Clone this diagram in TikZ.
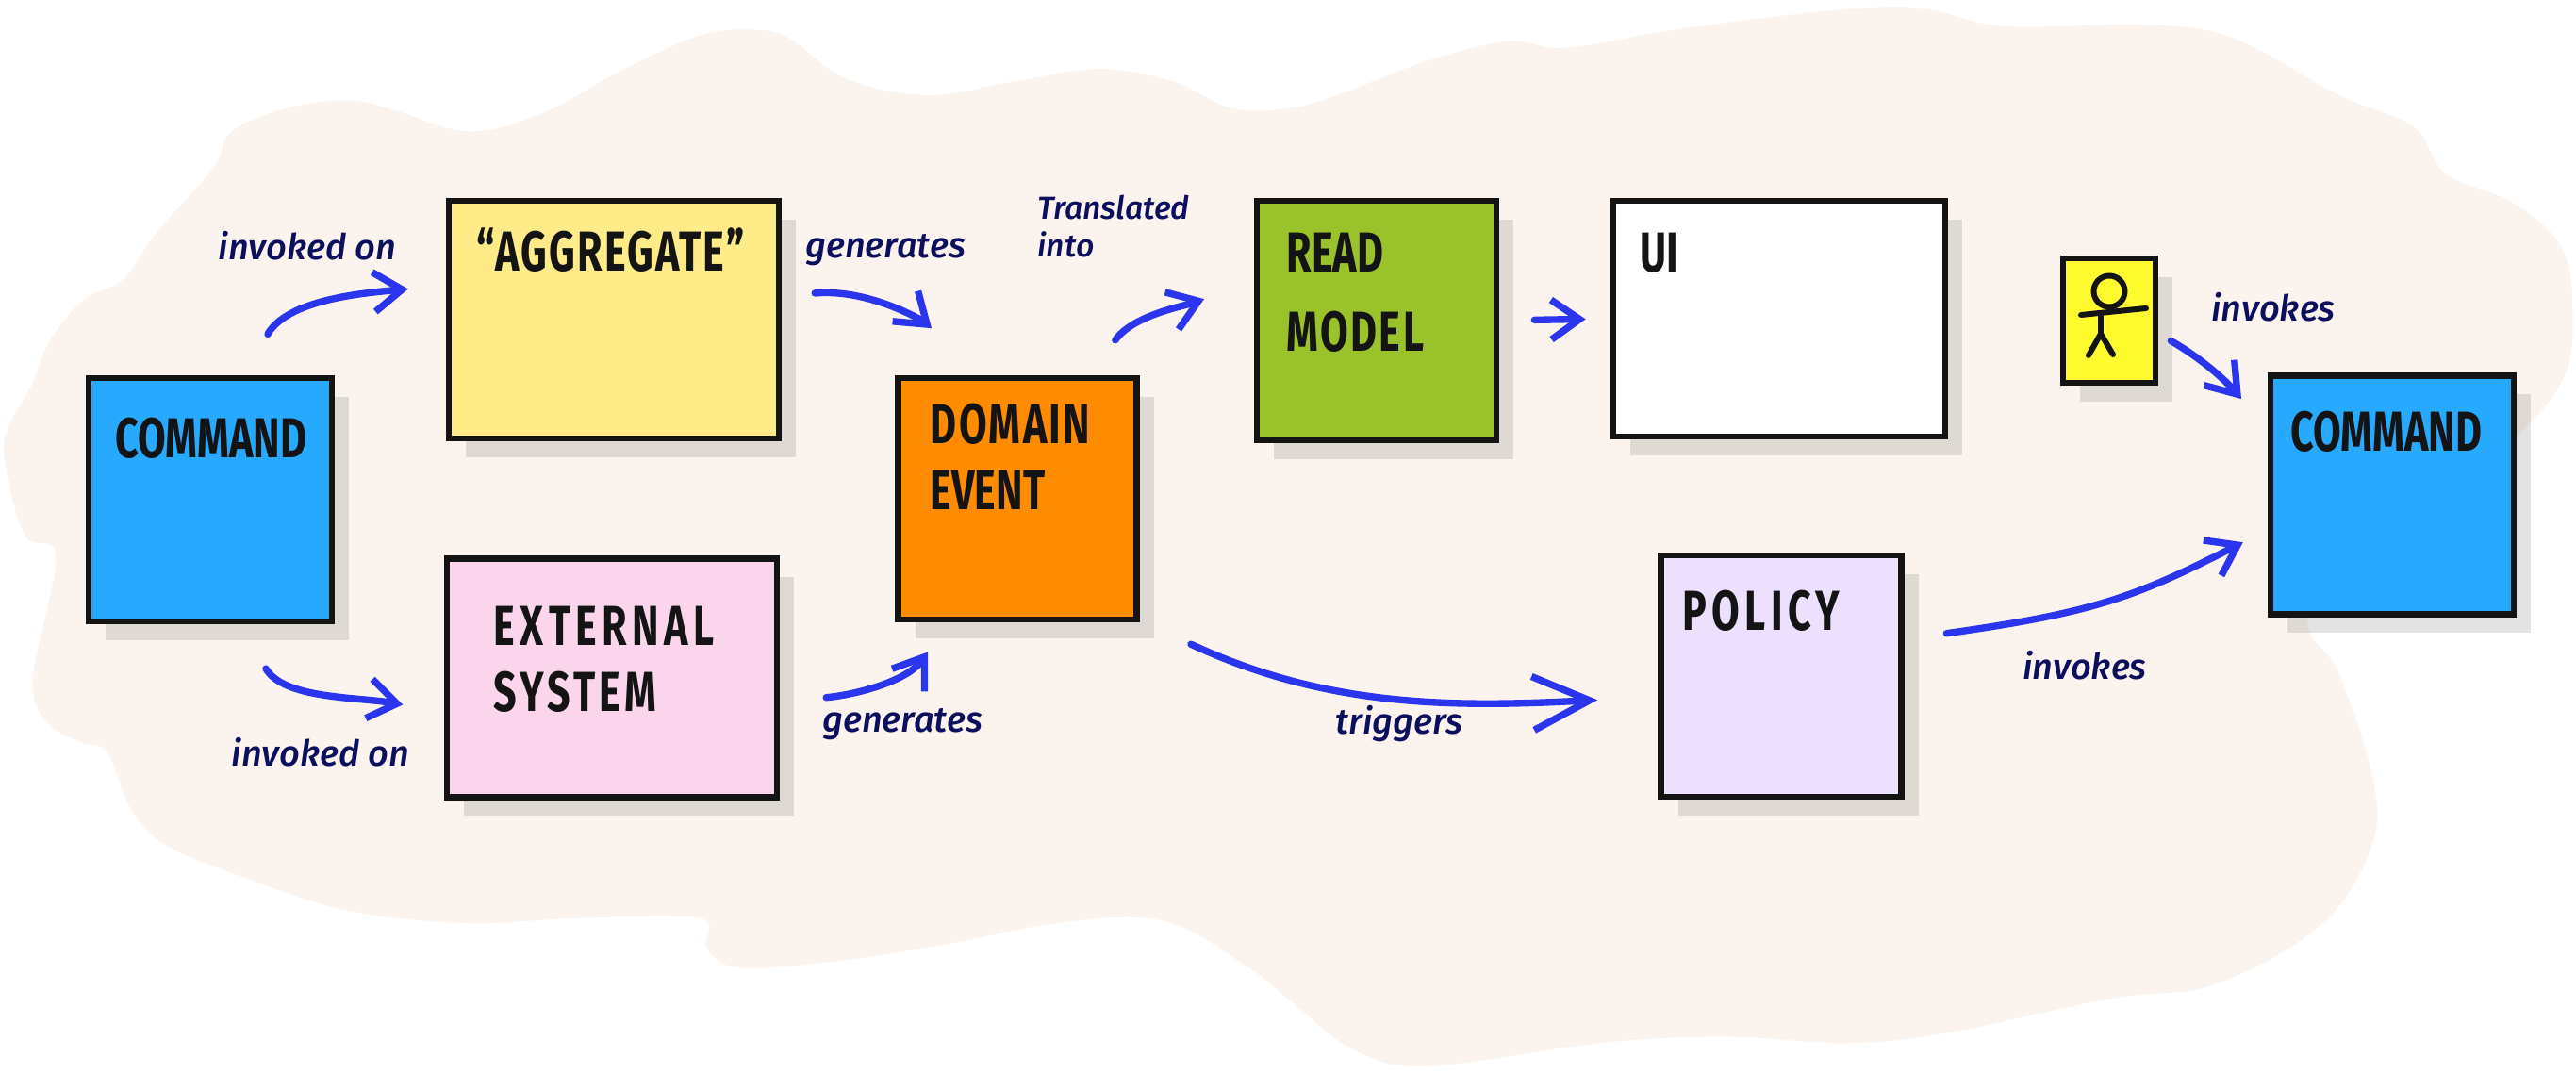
\documentclass[tikz,border=0pt]{standalone}
\usepackage{fontspec}
\usetikzlibrary{arrows.meta, shadows}
\newfontfamily\boxfont[FakeStretch=.72]{Fira Sans}
\newfontfamily\notefont[ItalicFont={Fira Sans Medium Italic}]{Fira Sans}
\newcommand{\spaced}[2]{{\addfontfeature{LetterSpace=#1}#2}}
\definecolor{blobcream}{HTML}{FBF4EE}
\definecolor{notenavy}{HTML}{0B0F5E}
\definecolor{flowblue}{HTML}{2B35EE}
\tikzset{
  sticky/.style={rectangle,draw=black!92,line width=1.9pt,inner sep=0pt,
    drop shadow={shadow xshift=.18cm,shadow yshift=-.2cm,fill=black,opacity=.11,rounded corners=6pt}},
  boxtext/.style={anchor=west,align=left,inner sep=0pt,text=black!92,font=\boxfont\bfseries\fontsize{17}{20}\selectfont},
  note/.style={inner sep=0pt,align=left,text=notenavy,font=\notefont\itshape\fontsize{10.8}{13}\selectfont},
  flow/.style={draw=flowblue,line width=2.1pt,line cap=round,line join=round,-{Straight Barb[length=3mm,width=4.2mm]}},
}
\begin{document}
\begin{tikzpicture}
    \useasboundingbox (0,0) rectangle (27.32,-11.38);
    % background
    \begin{scope}[x=.17423mm,y=-.17423mm]
    \fill[blobcream] plot[smooth cycle,tension=.6] coordinates {
      (140,81) (170,67) (210,61) (240,67) (285,80) (330,69) (380,42) (425,22) (455,18) (480,23)
      (515,48) (565,58) (615,50) (670,42) (715,50) (750,66) (784,66) (814,58) (869,37) (919,25)
      (954,29) (1034,16) (1154,4) (1219,16) (1304,15) (1359,23) (1424,58) (1469,77) (1489,106) (1529,123)
      (1559,150) (1566,187) (1561,229) (1529,269) (1465,325) (1406,374) (1424,410) (1444,472) (1444,514) (1414,562)
      (1349,599) (1284,608) (1184,629) (1124,635) (1049,631) (974,635) (869,649) (824,639) (784,608) (760,589)
      (710,561) (650,561) (575,575) (510,585) (450,589) (430,577) (426,559) (350,559) (285,562) (210,554)
      (140,531) (100,514) (80,493) (65,458) (50,452) (30,441) (20,414) (34,339) (15,326) (3,281)
      (5,260) (19,235) (30,208) (50,183) (75,170) (95,142) (130,102)};
    \end{scope}
    % stickies
    \node (command1)  at (2.23,-5.30)  [sticky,fill={rgb,255:red,39;green,169;blue,255},minimum width=2.58cm,minimum height=2.58cm] {};
    \node (aggregate) at (6.51,-3.39)  [sticky,fill={rgb,255:red,255;green,236;blue,136},minimum width=3.50cm,minimum height=2.52cm] {};
    \node (external)  at (6.49,-7.19)  [sticky,fill={rgb,255:red,251;green,213;blue,236},minimum width=3.50cm,minimum height=2.53cm] {};
    \node (event)     at (10.79,-5.29) [sticky,fill={rgb,255:red,255;green,140;blue,0},minimum width=2.53cm,minimum height=2.56cm] {};
    \node (readmodel) at (14.60,-3.40) [sticky,fill={rgb,255:red,154;green,194;blue,42},minimum width=2.54cm,minimum height=2.54cm] {};
    \node (ui)        at (18.87,-3.38) [sticky,fill=white,minimum width=3.52cm,minimum height=2.50cm] {};
    \node (actor)     at (22.37,-3.40) [sticky,fill={rgb,255:red,255;green,251;blue,46},minimum width=.98cm,minimum height=1.32cm] {};
    \node (policy)    at (18.89,-7.17) [sticky,fill={rgb,255:red,237;green,224;blue,255},minimum width=2.55cm,minimum height=2.56cm] {};
    \node (command2)  at (25.37,-5.25) [sticky,fill={rgb,255:red,39;green,169;blue,255},minimum width=2.58cm,minimum height=2.53cm] {};
    % sticky texts
    \node (command1text)  at (1.22,-4.65)  [boxtext] {COMMAND};
    \node (aggregatetext) at (5.05,-2.65)  [boxtext] {\spaced{3.5}{“AGGREGATE”}};
    \node (externaltext)  at (5.23,-6.99)  [boxtext] {\spaced{9}{EXTERNAL}\\\spaced{7}{SYSTEM}};
    \node (eventtext)     at (9.86,-4.84)  [boxtext] {\spaced{4}{DOMAIN}\\EVENT};
    \node (readmodeltext) at (13.64,-3.10) [boxtext] {READ\\[4pt]\spaced{4}{MODEL}};
    \node (uitext)        at (17.39,-2.68) [boxtext] {UI};
    \node (policytext)    at (17.84,-6.48) [boxtext] {\spaced{9}{POLICY}};
    \node (command2text)  at (24.29,-4.58) [boxtext] {COMMAND};
    % stick figure
    \begin{scope}[shift={(actor.center)},draw=black!92,line width=1.7pt,line cap=round]
    \draw (0,.31) circle (.165);
    \draw (-.30,.06) -- (.39,.13);
    \draw (-.09,.06) -- (-.09,-.14);
    \draw (-.22,-.37) -- (-.09,-.14) -- (.04,-.36);
    \end{scope}
    % connectors
    \draw[flow,shorten <=.5cm,shorten >=.4cm] ([xshift=.36cm]command1.north) to[out=60,in=185] ([yshift=.36cm]aggregate.west);
    \draw[flow,shorten <=.54cm,shorten >=.44cm] ([xshift=.32cm]command1.south) to[out=-60,in=170] ([yshift=-.36cm]external.west);
    \draw[flow,shorten <=.35cm,shorten >=.77cm] ([yshift=.25cm]aggregate.east) to[out=5,in=140] ([xshift=-.32cm]event.north);
    \draw[flow,shorten <=.49cm,shorten >=.38cm] ([yshift=-.25cm]external.east) to[out=5,in=235] ([xshift=-.73cm]event.south);
    \draw[flow,shorten <=.45cm,shorten >=.56cm] ([xshift=.78cm]event.north) to[out=55,in=200] ([yshift=.42cm]readmodel.west);
    \draw[flow,shorten <=.37cm,shorten >=.26cm] (readmodel.east) -- (ui.west);
    \draw[flow,shorten <=.54cm,shorten >=.64cm,-{Straight Barb[length=6mm,width=5.7mm]}] ([xshift=1.35cm]event.south) to[out=-25,in=183] ([yshift=-.22cm]policy.west);
    \draw[flow,shorten <=.45cm,shorten >=.29cm] ([yshift=.39cm]policy.east) to[out=8,in=207,out looseness=1.3] ([yshift=-.37cm]command2.west);
    \draw[flow,shorten <=.15cm,shorten >=.43cm] ([yshift=-.14cm]actor.east) to[out=-30,in=130] ([yshift=.69cm]command2.west);
    % labels
    \node (invokedon1) at (3.26,-2.61)  [note] {invoked on};
    \node (invokedon2) at (3.40,-7.98)  [note] {invoked on};
    \node (generates1) at (9.39,-2.65)  [note] {generates};
    \node (generates2) at (9.57,-7.68)  [note] {generates};
    \node (translated) at (11.81,-2.40) [note,font=\notefont\itshape\fontsize{9.6}{11.5}\selectfont] {Translated\\into};
    \node (triggers)   at (14.84,-7.68) [note] {triggers};
    \node (invokes1)   at (24.11,-3.26) [note] {invokes};
    \node (invokes2)   at (22.11,-7.06) [note] {invokes};
\end{tikzpicture}
\end{document}
